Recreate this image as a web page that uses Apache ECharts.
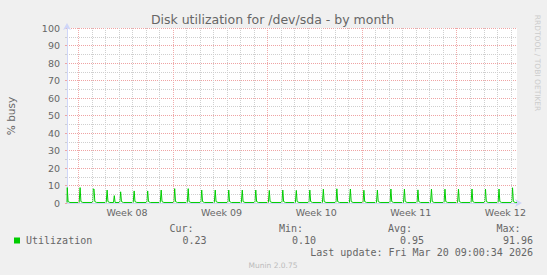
<!DOCTYPE html>
<html><head><meta charset="utf-8">
<script src="https://cdn.jsdelivr.net/npm/echarts@6/dist/echarts.min.js"></script>
<style>html,body{margin:0;padding:0;background:#f0f0f0;}#c{width:547px;height:275px;}</style>
</head><body><div id="c"></div>
<script>
// ---- data ----
const titleText = 'Disk utilization for /dev/sda - by month';
const yAxisName = '% busy';
const weekLabels = ['Week 08', 'Week 09', 'Week 10', 'Week 11', 'Week 12'];
const weekLabelDays = [3.6, 10.6, 17.6, 24.6, 31.6];
const weekGridDays = [0, 7, 14, 21, 28];
const dayGridDays = [1,2,3,4,5,6,8,9,10,11,12,13,15,16,17,18,19,20,22,23,24,25,26,27,29,30,31,32];
const utilDays = [
 -0.84, -0.82, -0.76, -0.62,
 0.06, 0.13, 0.19, 0.33,
 1.06, 1.10, 1.16, 1.22, 1.36,
 2.06, 2.13, 2.19, 2.33,
 2.60, 2.66, 2.72,
 3.06, 3.13, 3.19, 3.33,
 4.06, 4.13, 4.19, 4.33,
 5.06, 5.13, 5.19, 5.33,
 6.06, 6.13, 6.19, 6.33,
 7.06, 7.13, 7.19, 7.33,
 8.06, 8.13, 8.19, 8.33,
 9.06, 9.13, 9.19, 9.33,
 10.06, 10.13, 10.19, 10.33,
 11.06, 11.13, 11.19, 11.33,
 12.06, 12.13, 12.19, 12.33,
 13.06, 13.13, 13.19, 13.33,
 14.06, 14.13, 14.19, 14.33,
 15.06, 15.13, 15.19, 15.33,
 16.06, 16.13, 16.19, 16.33,
 17.06, 17.13, 17.19, 17.33,
 18.06, 18.13, 18.19, 18.33,
 19.06, 19.13, 19.19, 19.33,
 20.06, 20.13, 20.19, 20.33,
 21.06, 21.13, 21.19, 21.33,
 22.06, 22.13, 22.19, 22.33,
 23.06, 23.13, 23.19, 23.33,
 24.06, 24.13, 24.19, 24.33,
 25.06, 25.13, 25.19, 25.33,
 26.06, 26.13, 26.19, 26.33,
 27.06, 27.13, 27.19, 27.33,
 28.06, 28.13, 28.19, 28.33,
 29.06, 29.13, 29.19, 29.33,
 30.06, 30.13, 30.19, 30.33,
 31.06, 31.13, 31.19, 31.33,
 32.06, 32.13, 32.19, 32.33, 32.46
];
const utilValues = [
 0.3, 8.8, 0.8, 0.3,
 0.3, 8.8, 0.8, 0.3,
 0.3, 8.0, 8.0, 0.8, 0.3,
 0.3, 7.4, 0.8, 0.3,
 0.3, 4.2, 0.3,
 0.3, 6.4, 0.8, 0.3,
 0.3, 6.9, 0.8, 0.3,
 0.3, 6.9, 0.8, 0.3,
 0.3, 7.4, 0.8, 0.3,
 0.3, 8.2, 0.8, 0.3,
 0.3, 8.2, 0.8, 0.3,
 0.3, 7.4, 0.8, 0.3,
 0.3, 7.4, 0.8, 0.3,
 0.3, 7.4, 0.8, 0.3,
 0.3, 7.4, 0.8, 0.3,
 0.3, 7.4, 0.8, 0.3,
 0.3, 7.2, 0.8, 0.3,
 0.3, 7.4, 0.8, 0.3,
 0.3, 7.2, 0.8, 0.3,
 0.3, 7.4, 0.8, 0.3,
 0.3, 7.9, 0.8, 0.3,
 0.3, 8.1, 0.8, 0.3,
 0.3, 8.0, 0.8, 0.3,
 0.3, 7.3, 0.8, 0.3,
 0.3, 7.4, 0.8, 0.3,
 0.3, 8.0, 0.8, 0.3,
 0.3, 7.9, 0.8, 0.3,
 0.3, 7.5, 0.8, 0.3,
 0.3, 7.9, 0.8, 0.3,
 0.3, 7.9, 0.8, 0.3,
 0.3, 7.9, 0.8, 0.3,
 0.3, 8.0, 0.8, 0.3,
 0.3, 7.9, 0.8, 0.3,
 0.3, 8.0, 0.8, 0.3,
 0.3, 8.7, 0.8, 0.3, 0.23
];
const seriesName = 'Utilization';
const statLabels = ['Cur:', 'Min:', 'Avg:', 'Max:'];
const statValues = ['0.23', '0.10', '0.95', '91.96'];
const lastUpdate = 'Last update: Fri Mar 20 09:00:34 2026';
const footerText = 'Munin 2.0.75';
const sideText = 'RRDTOOL / TOBI OETIKER';

// ---- layout / style ----
const FONT = 'DejaVu Sans, Verdana, sans-serif';
const MONO = 'DejaVu Sans Mono, monospace';
const TXT = '#666666';
const MGRID = '#EFA3A3';
const GRID = '#CFCFCF';
const AXIS = '#CFD6F8';
const GREEN = '#00CC00';
const statLabelRight = [193.6, 303, 412, 520.6];
const statValueRight = [206.5, 316, 424, 533];

const chart = echarts.init(document.getElementById('c'), null, {renderer: 'svg'});

const graphics = [
  {type: 'text', x: 272.5, y: 19.5, style: {text: titleText, font: '12.5px ' + FONT, fill: TXT, align: 'center', verticalAlign: 'middle'}},
  {type: 'text', x: 10.5, y: 116, rotation: Math.PI / 2, style: {text: yAxisName, font: '10.5px ' + FONT, fill: TXT, align: 'center', verticalAlign: 'middle'}},
  {type: 'text', x: 537, y: 63, rotation: -Math.PI / 2, style: {text: sideText, font: '7.5px ' + FONT, fill: '#CCCCCC', align: 'center', verticalAlign: 'middle'}},
  {type: 'rect', shape: {x: 14, y: 237.5, width: 6, height: 6}, style: {fill: GREEN}},
  {type: 'text', x: 26, y: 240.4, style: {text: seriesName, font: '10px ' + MONO, fill: TXT, align: 'left', verticalAlign: 'middle'}},
  {type: 'text', x: 533, y: 252.6, style: {text: lastUpdate, font: '10px ' + MONO, fill: TXT, align: 'right', verticalAlign: 'middle'}},
  {type: 'text', x: 273, y: 265.8, style: {text: footerText, font: '7.5px ' + FONT, fill: '#BBBBBB', align: 'center', verticalAlign: 'middle'}}
];
statLabels.forEach((s, i) => {
  graphics.push({type: 'text', x: statLabelRight[i], y: 228.5, style: {text: s, font: '10px ' + MONO, fill: TXT, align: 'right', verticalAlign: 'middle'}});
  graphics.push({type: 'text', x: statValueRight[i], y: 240.4, style: {text: statValues[i], font: '10px ' + MONO, fill: TXT, align: 'right', verticalAlign: 'middle'}});
});

function gridSeries(days, color) {
  return {
    type: 'line', data: [], z: 1, silent: true,
    markLine: {
      silent: true, symbol: ['none', 'none'], label: {show: false}, emphasis: {disabled: true}, animation: false,
      lineStyle: {color: color, type: [1, 1], width: 1, opacity: 1},
      data: days.map(d => ({xAxis: d}))
    }
  };
}

chart.setOption({
  animation: false,
  backgroundColor: '#F0F0F0',
  grid: {left: 67, top: 28, width: 450, height: 175, show: true, backgroundColor: '#FFFFFF', borderWidth: 0, containLabel: false, outerBoundsMode: 'none'},
  xAxis: {
    type: 'value', min: -0.84, max: 32.46,
    axisLine: {show: true, onZero: false, lineStyle: {color: AXIS, width: 1}, symbol: ['none', 'arrow'], symbolSize: [6, 7], symbolOffset: [0, 5]},
    axisTick: {show: false},
    splitLine: {show: false},
    axisLabel: {
      show: true, customValues: weekLabelDays, margin: 4,
      fontSize: 9.5, fontFamily: FONT, color: TXT,
      formatter: v => { const i = weekLabelDays.findIndex(d => Math.abs(d - v) < 1e-6); return i >= 0 ? weekLabels[i] : ''; }
    }
  },
  yAxis: {
    type: 'value', min: 0, max: 100, interval: 10,
    axisLine: {show: true, onZero: false, lineStyle: {color: AXIS, width: 1}, symbol: ['none', 'arrow'], symbolSize: [6, 7], symbolOffset: [0, 5]},
    axisTick: {show: true, length: 2, lineStyle: {color: MGRID}},
    minorTick: {show: true, splitNumber: 2, length: 2, lineStyle: {color: GRID}},
    splitLine: {show: true, lineStyle: {color: MGRID, type: [1, 1], width: 1}},
    minorSplitLine: {show: true, lineStyle: {color: GRID, type: [1, 1], width: 1}},
    axisLabel: {margin: 7, fontSize: 9.5, fontFamily: FONT, color: TXT}
  },
  series: [
    gridSeries(dayGridDays, GRID),
    gridSeries(weekGridDays, '#F0ABAB'),
    {
      name: seriesName, type: 'line', z: 3, showSymbol: false, symbol: 'none', silent: true,
      lineStyle: {color: GREEN, width: 1}, itemStyle: {color: GREEN},
      data: utilDays.map((d, i) => [d, utilValues[i]])
    }
  ],
  graphic: graphics
});
</script>
</body></html>
